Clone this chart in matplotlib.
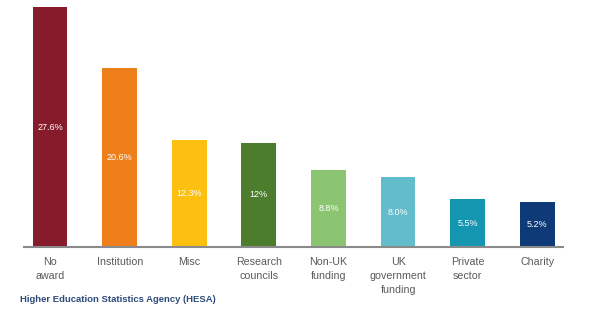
import matplotlib
matplotlib.use("Agg")
import matplotlib.pyplot as plt

categories = ["No\naward", "Institution", "Misc", "Research\ncouncils", "Non-UK\nfunding",
              "UK\ngovernment\nfunding", "Private\nsector", "Charity"]
values = [27.6, 20.6, 12.3, 12.0, 8.8, 8.0, 5.5, 5.2]
value_labels = ["27.6%", "20.6%", "12.3%", "12%", "8.8%", "8.0%", "5.5%", "5.2%"]
colors = ["#861b2b", "#ee7f1a", "#fdc010", "#4c7d2d", "#8cc571", "#63bccc", "#1596b0", "#0f3a78"]
source = "Higher Education Statistics Agency (HESA)"

plt.rcParams['font.family'] = ['Liberation Sans', 'DejaVu Sans']

fig = plt.figure(figsize=(6.02, 3.23), dpi=100)
ax = fig.add_axes([24/602, 76/323, (563-24)/602, (247-7)/323])
x = list(range(len(values)))
bars = ax.bar(x, values, width=0.5, color=colors)
for xi, v, lab in zip(x, values, value_labels):
    ax.text(xi, v/2, lab, ha='center', va='center', color='white', fontsize=6.5)

ax.set_xlim(-0.375, 7.37)
ax.set_ylim(0, 27.6)
ax.set_xticks(x)
ax.set_xticklabels(categories, fontsize=7.7, color='#5a5a5a', linespacing=1.5, va='top')
ax.tick_params(axis='x', length=0, pad=7)
ax.set_yticks([])
for s in ['top', 'right', 'left']:
    ax.spines[s].set_visible(False)
ax.spines['bottom'].set_color('#8a8a8a')
ax.spines['bottom'].set_linewidth(1.5)

fig.text(20/602, 1 - 300/323, source, fontsize=6.8, fontweight='bold', color='#2c4a7a',
         ha='left', va='center')

fig.savefig("out.png", dpi=100, facecolor='white')
